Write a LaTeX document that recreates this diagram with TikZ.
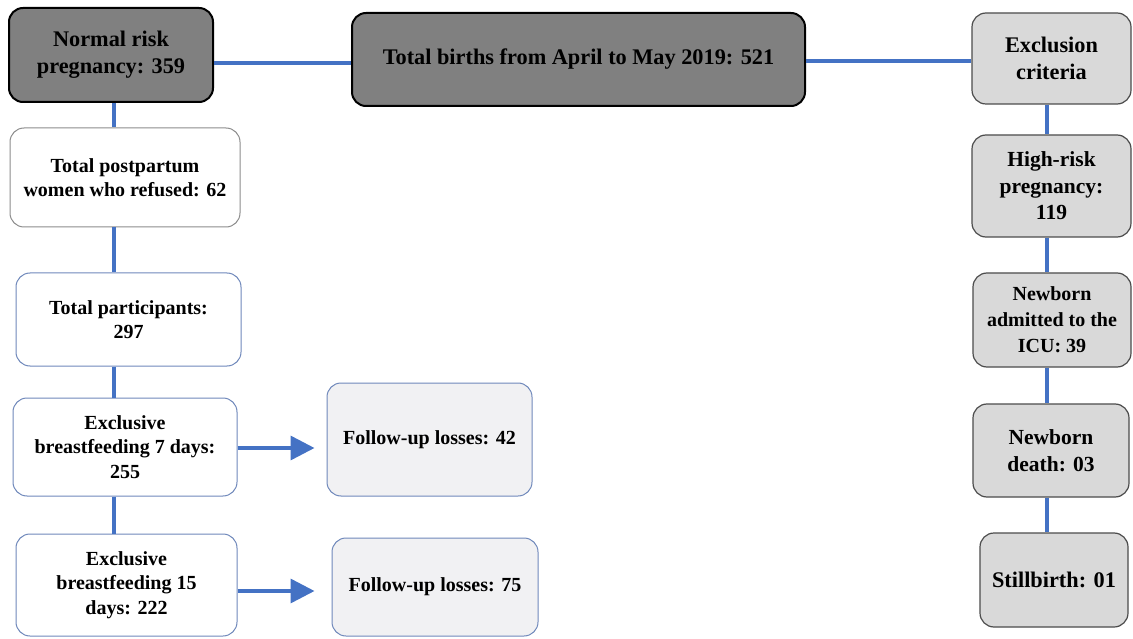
\documentclass[tikz,border=0pt]{standalone}
\usepackage{fontspec}
\setmainfont{Liberation Serif}
\usetikzlibrary{arrows.meta}
\definecolor{lienbleu}{HTML}{4472C4}
\definecolor{bordbleu}{HTML}{6F88BB}
\definecolor{grisfonce}{HTML}{808080}
\definecolor{grisclair}{HTML}{D9D9D9}
\definecolor{grispale}{HTML}{F1F1F3}
\begin{document}
\begin{tikzpicture}[x=1pt,y=-1pt]
    \tikzstyle{boite}=[rounded corners=14pt,inner sep=0pt,align=center,font=\bfseries\fontsize{20}{24.5}\selectfont]
    \tikzstyle{grand}=[font=\bfseries\fontsize{22.3}{27}\selectfont]
    \tikzstyle{moyen}=[font=\bfseries\fontsize{21.5}{26.5}\selectfont]
    \tikzstyle{boiteA}=[boite,grand,draw=black,line width=2pt,fill=grisfonce]
    \tikzstyle{boiteB}=[boite,draw=black!70,line width=1.2pt,fill=grisclair]
    \tikzstyle{boiteC}=[boite,draw=bordbleu,line width=1pt,fill=white]
    \tikzstyle{boiteD}=[boite,draw=bordbleu,line width=1pt,fill=grispale]
    \tikzstyle{lien}=[lienbleu,line width=3.5pt]
    \useasboundingbox (0,0) rectangle (1133,639);
    \node[boiteA,minimum width=204pt,minimum height=94pt] (normal) at (111,55) {Normal risk\\pregnancy: 359};
    \node[boiteA,minimum width=453pt,minimum height=93pt] (births) at (578.5,59.5) {Total births from April to May 2019: 521};
    \node[boiteB,grand,minimum width=159pt,minimum height=91pt] (excl) at (1051.5,58.5) {Exclusion\\criteria};
    \node[boiteB,moyen,minimum width=159pt,minimum height=102pt] (high) at (1051.5,186) {High-risk\\pregnancy:\\119};
    \node[boiteB,font=\bfseries\fontsize{20}{26}\selectfont,minimum width=158pt,minimum height=94pt] (icu) at (1052,320) {Newborn\\admitted to the\\ICU: 39};
    \node[boiteB,moyen,minimum width=156pt,minimum height=93pt] (death) at (1051,450.5) {Newborn\\death: 03};
    \node[boiteB,grand,minimum width=148pt,minimum height=94pt] (still) at (1054,580) {Stillbirth: 01};
    \node[boiteC,draw=black!45,minimum width=230pt,minimum height=99pt] (post) at (125,177.5) {Total postpartum\\women who refused: 62};
    \node[boiteC,minimum width=225pt,minimum height=93pt] (part) at (128.5,319.5) {Total participants:\\297};
    \node[boiteC,minimum width=224pt,minimum height=98pt] (bf7) at (125,447) {Exclusive\\breastfeeding 7 days:\\255};
    \node[boiteC,minimum width=221pt,minimum height=102pt] (bf15) at (126.5,585) {Exclusive\\breastfeeding 15\\days: 222};
    \node[boiteD,minimum width=205pt,minimum height=113pt] (fu42) at (429.5,439.5) {Follow-up losses: 42};
    \node[boiteD,minimum width=206pt,minimum height=98pt] (fu75) at (435,587) {Follow-up losses: 75};
    \coordinate (lx) at (114,63);
    \coordinate (rx) at (1047,61);
    \draw[lien] (normal.east |- lx) -- (births.west |- lx);
    \draw[lien] (births.east |- rx) -- (excl.west |- rx);
    \draw[lien] (normal.south -| lx) -- (post.north -| lx);
    \draw[lien] (post.south -| lx) -- (part.north -| lx);
    \draw[lien] (part.south -| lx) -- (bf7.north -| lx);
    \draw[lien] (bf7.south -| lx) -- (bf15.north -| lx);
    \draw[lien] (excl.south -| rx) -- (high.north -| rx);
    \draw[lien] (high.south -| rx) -- (icu.north -| rx);
    \draw[lien] (icu.south -| rx) -- (death.north -| rx);
    \draw[lien] (death.south -| rx) -- (still.north -| rx);
    \draw[lien,-{Triangle[length=24pt,width=24pt]},shorten >=12pt] (bf7.east |- 0,448) -- (fu42.west |- 0,448);
    \draw[lien,-{Triangle[length=24pt,width=24pt]},shorten >=17pt] (bf15.east |- 0,591) -- (fu75.west |- 0,591);
\end{tikzpicture}
\end{document}
